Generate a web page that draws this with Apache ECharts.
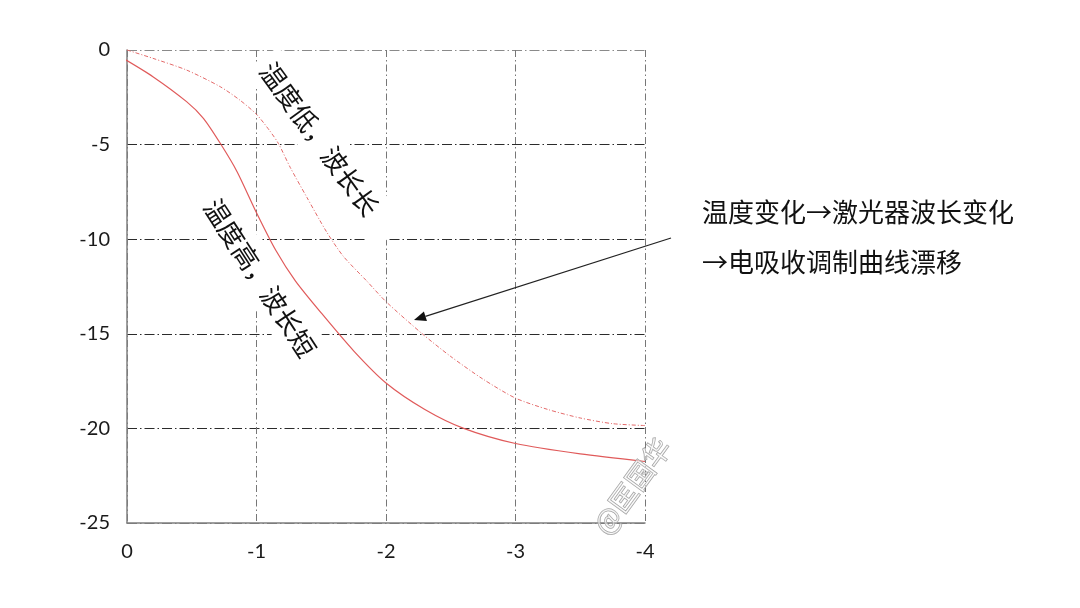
<!DOCTYPE html>
<html>
<head>
<meta charset="utf-8">
<script src="https://cdn.jsdelivr.net/npm/echarts@6/dist/echarts.min.js"></script>
<style>
html,body{margin:0;padding:0;background:#fff;}
#chart{width:1080px;height:608px;}
</style>
</head>
<body>
<div id="chart"></div>
<script>
// ---- data ----
var xTicks = [0, -1, -2, -3, -4];
var yTicks = [0, -5, -10, -15, -20, -25];

// 温度高，波长短 (solid)
var highX = [0.03, -0.2, -0.46, -0.59, -0.72, -0.85, -1.0, -1.15, -1.3, -1.5, -1.75, -2.0, -2.3, -2.6, -3.0, -3.5, -4.0];
var highY = [-0.44, -1.41, -2.73, -3.61, -4.93, -6.43, -8.6, -10.6, -12.2, -13.9, -15.9, -17.6, -19.0, -20.0, -20.8, -21.35, -21.75];

// 温度低，波长长 (dash-dot)
var lowX = [0, -0.2, -0.46, -0.72, -0.87, -1.0, -1.1, -1.17, -1.26, -1.39, -1.54, -1.67, -1.85, -2.0, -2.28, -2.5, -2.75, -3.0, -3.25, -3.5, -3.75, -4.0];
var lowY = [0, -0.44, -1.06, -1.94, -2.64, -3.4, -4.25, -4.95, -6.2, -7.8, -9.6, -10.9, -12.2, -13.3, -15.0, -16.2, -17.4, -18.4, -19.0, -19.45, -19.75, -19.85];

var labelLow = '温度低，波长长';
var labelHigh = '温度高，波长短';
var noteLine1 = '温度变化→激光器波长变化';
var noteLine2 = '→电吸收调制曲线漂移';
var watermark = '@匡国华';

function zip(xs, ys) { return xs.map(function (x, i) { return [x, ys[i]]; }); }

var chart = echarts.init(document.getElementById('chart'), null, {renderer: 'canvas'});

var cjk = '"Noto Sans CJK SC", "Noto Sans", sans-serif';

// arrow geometry (annotation)
var tail = [671, 238], tip = [414, 320];
var dx = tip[0] - tail[0], dy = tip[1] - tail[1];
var len = Math.sqrt(dx * dx + dy * dy);
var ux = dx / len, uy = dy / len;
var headL = 12, headW = 5;
var bx = tip[0] - headL * ux, by = tip[1] - headL * uy;
var nx = -uy * headW, ny = ux * headW;

var option = {
  backgroundColor: '#ffffff',
  animation: false,
  grid: {left: 127, right: 435, top: 50, bottom: 85},
  xAxis: {
    type: 'value',
    inverse: true,
    min: -4, max: 0, interval: 1,
    axisLine: {show: true, onZero: false, lineStyle: {color: '#7f7f7f', width: 1.5}},
    axisTick: {show: false},
    axisLabel: {
      margin: 19, color: '#1a1a1a', fontSize: 20, fontFamily: 'Lato, "Open Sans", sans-serif',
      formatter: function (v) { return xTicks.indexOf(v) >= 0 ? String(v) : ''; }
    },
    splitLine: {show: true, lineStyle: {color: '#777777', width: 1, type: [7, 3, 1.5, 3]}}
  },
  yAxis: {
    type: 'value',
    min: -25, max: 0, interval: 5,
    axisLine: {show: true, onZero: false, lineStyle: {color: '#7f7f7f', width: 1.5}},
    axisTick: {show: false},
    axisLabel: {
      margin: 17, color: '#1a1a1a', fontSize: 20, fontFamily: 'Lato, "Open Sans", sans-serif',
      formatter: function (v) { return yTicks.indexOf(v) >= 0 ? String(v) : ''; }
    },
    splitLine: {show: true, lineStyle: {color: ['#777777', '#2b2b2b', '#2b2b2b', '#2b2b2b', '#2b2b2b', '#8a8a8a'], width: 1, type: [10, 3, 1.5, 3]}}
  },
  series: [
    {
      name: labelHigh, type: 'line', data: zip(highX, highY), smooth: 0.25,
      showSymbol: false, symbol: 'none', clip: false, z: 5,
      lineStyle: {color: '#e05a5a', width: 1.2}
    },
    {
      name: labelLow, type: 'line', data: zip(lowX, lowY), smooth: 0.25,
      showSymbol: false, symbol: 'none', clip: false, z: 5,
      lineStyle: {color: '#e46a6a', width: 1, type: [4, 2, 1, 2]}
    }
  ],
  graphic: [
    {
      type: 'text', x: 326, y: 148, rotation: -54 * Math.PI / 180, z: 3,
      style: {
        text: labelLow, font: '26px ' + cjk, fill: '#111', align: 'center', verticalAlign: 'middle',
        backgroundColor: '#ffffff', padding: [8, 30, 8, 8]
      }
    },
    {
      type: 'text', x: 260, y: 278, rotation: -57 * Math.PI / 180, z: 3,
      style: {
        text: labelHigh, font: '26px ' + cjk, fill: '#111', align: 'center', verticalAlign: 'middle',
        backgroundColor: '#ffffff', padding: [8, 8, 8, 8]
      }
    },
    {
      type: 'text', x: 702, y: 212, z: 3,
      style: {text: noteLine1, font: '26px ' + cjk, fill: '#111', align: 'left', verticalAlign: 'middle'}
    },
    {
      type: 'text', x: 702, y: 262, z: 3,
      style: {text: noteLine2, font: '26px ' + cjk, fill: '#111', align: 'left', verticalAlign: 'middle'}
    },
    {
      type: 'line', z: 6,
      shape: {x1: tail[0], y1: tail[1], x2: bx, y2: by},
      style: {stroke: '#222', lineWidth: 1.2}
    },
    {
      type: 'polygon', z: 6,
      shape: {points: [[tip[0], tip[1]], [bx + nx, by + ny], [bx - nx, by - ny]]},
      style: {fill: '#111'}
    },
    {
      type: 'text', x: 632, y: 486, rotation: 54 * Math.PI / 180, z: 7,
      style: {
        text: watermark, font: '28px ' + cjk, fill: 'rgba(255,255,255,0.5)', stroke: '#9a9a9a', lineWidth: 1,
        align: 'center', verticalAlign: 'middle'
      }
    }
  ]
};
chart.setOption(option);
</script>
</body>
</html>
